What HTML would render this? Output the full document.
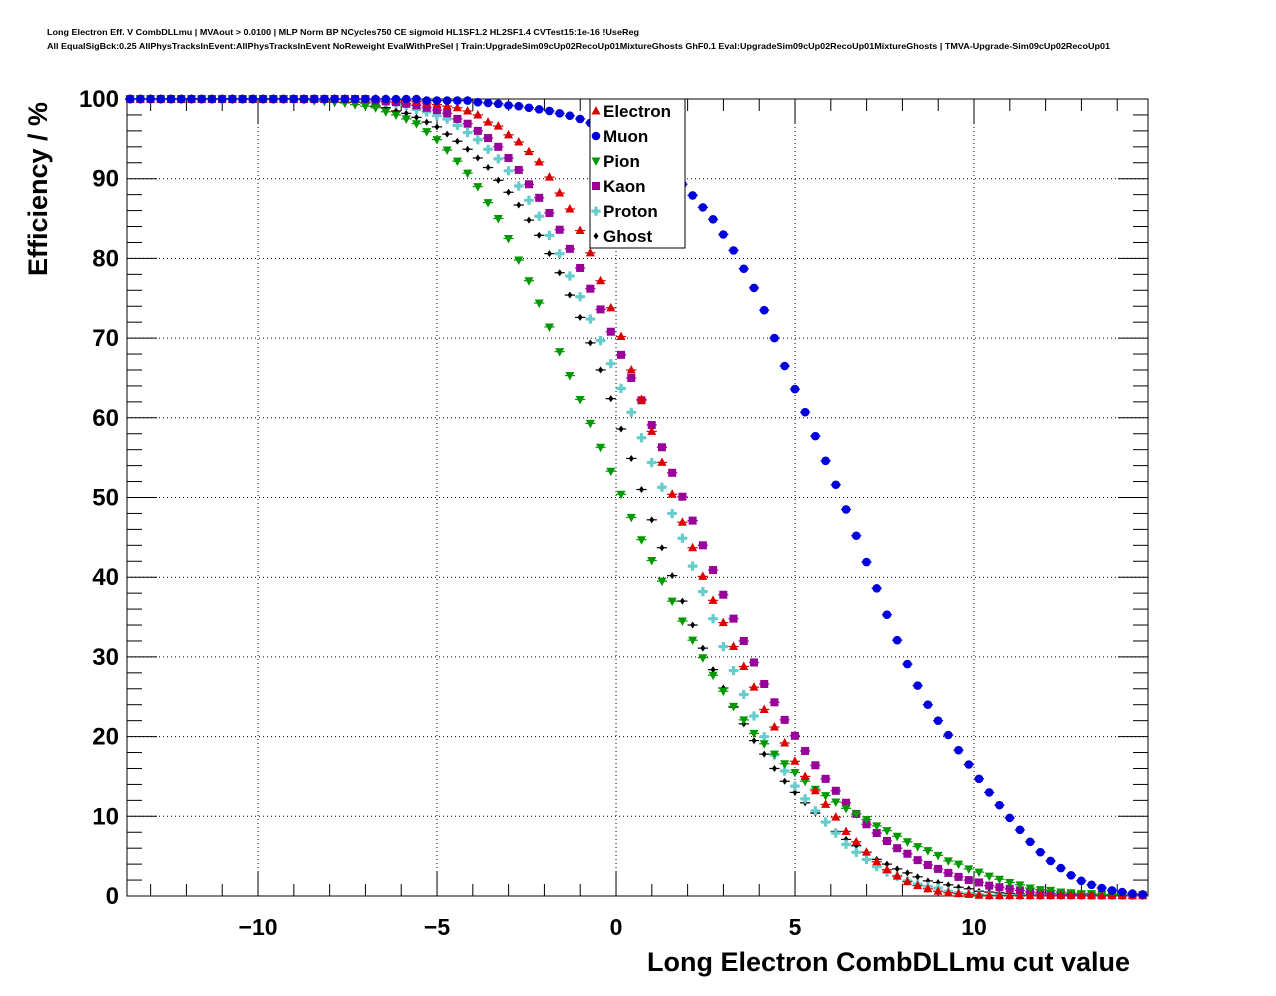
<!DOCTYPE html>
<html><head><meta charset="utf-8"><style>
html,body{margin:0;padding:0;background:#fff;}
svg{display:block;font-family:"Liberation Sans",Arial,sans-serif;font-weight:bold;}
</style></head><body>
<svg id="chart" width="1276" height="996" viewBox="0 0 1276 996" xmlns="http://www.w3.org/2000/svg">
<defs><clipPath id="plotclip"><rect x="122" y="90" width="1032" height="812"/></clipPath></defs>
<rect x="0" y="0" width="1276" height="996" fill="#fff"/>
<text x="47" y="35" font-size="8.5" textLength="592" lengthAdjust="spacingAndGlyphs">Long Electron Eff. V CombDLLmu | MVAout &gt; 0.0100 | MLP Norm BP NCycles750 CE sigmoid HL1SF1.2 HL2SF1.4 CVTest15:1e-16 !UseReg</text>
<text x="47" y="49" font-size="8.5" textLength="1063" lengthAdjust="spacingAndGlyphs">All EqualSigBck:0.25 AllPhysTracksInEvent:AllPhysTracksInEvent NoReweight EvalWithPreSel | Train:UpgradeSim09cUp02RecoUp01MixtureGhosts GhF0.1 Eval:UpgradeSim09cUp02RecoUp01MixtureGhosts | TMVA-Upgrade-Sim09cUp02RecoUp01</text>
<g id="grid"></g><g id="axes"></g><g id="marks" clip-path="url(#plotclip)"></g><g id="legend"></g>
<text transform="translate(47,189) rotate(-90)" text-anchor="middle" font-size="27">Efficiency / %</text>
<text x="1130" y="971" text-anchor="end" font-size="27">Long Electron CombDLLmu cut value</text>
</svg>
<script>
const kStart = -51;
const binWidth = 0.2857;
const binOffset = 0.14;
const seriesNames = ["Electron","Muon","Pion","Kaon","Proton","Ghost"];
const xTicks = [-10,-5,0,5,10];
const yTicks = [0,10,20,30,40,50,60,70,80,90,100];
const yTickLabels = ["0","10","20","30","40","50","60","70","80","90","100"];
const electron = [100,100,100,100,100,100,100,100,100,100,100,100,100,100,100,100,100,100,100,100,100,100,100,100,100,100,100,100,100,99.9,99.8,99.7,99.5,99.3,99.1,98.9,98.5,98.0,97.1,96.6,95.5,94.6,93.4,92.1,90.2,88.2,86.2,83.5,80.7,77.2,73.8,70.2,66.0,62.3,58.3,54.4,50.4,46.9,43.7,40.1,37.1,34.3,31.3,28.8,26.2,23.4,21.2,19.2,16.9,15.0,13.2,11.5,9.9,8.1,6.8,5.5,4.3,3.3,2.5,1.8,1.3,0.9,0.6,0.4,0.3,0.2,0.1,0.05,0.05,0.05,0.05,0.05,0.05,0.05,0.05,0.05,0.05,0.05,0.05,0.05,0.05,0.05,0.05];
const muon = [100,100,100,100,100,100,100,100,100,100,100,100,100,100,100,100,100,100,100,100,100,100,100,100,100,100,100,100,100,100,100,100,99.8,99.8,99.8,99.8,99.8,99.6,99.5,99.4,99.2,99.1,98.9,98.7,98.5,98.2,97.9,97.5,97.0,96.4,95.9,95.6,94.9,94.0,93.0,91.8,90.5,89.3,87.9,86.4,84.9,83.0,81.0,78.7,76.3,73.5,70.0,66.5,63.6,60.7,57.7,54.6,51.6,48.5,45.2,41.9,38.6,35.3,32.1,29.1,26.4,24.0,22.0,20.2,18.3,16.5,14.7,13.0,11.4,9.8,8.3,6.8,5.5,4.4,3.5,2.6,1.9,1.4,1.0,0.7,0.5,0.3,0.2];
const pion = [100,100,100,100,100,100,100,100,100,100,100,100,100,100,100,100,100,100,100,100,99.9,99.8,99.7,99.6,99.5,99.3,99.1,98.9,98.4,98.0,97.5,96.9,95.9,94.9,93.6,92.2,90.7,89.0,87.0,85.0,82.5,79.8,77.2,74.4,71.4,68.3,65.3,62.3,59.3,56.3,53.3,50.4,47.5,44.7,42.1,39.5,37.0,34.5,32.1,29.9,27.7,25.7,23.8,22.1,20.4,19.1,17.8,16.6,15.5,14.4,13.4,12.6,11.8,11.0,10.3,9.6,8.8,8.2,7.5,6.8,6.2,5.7,5.1,4.4,4.0,3.4,3.0,2.5,2.1,1.7,1.4,1.0,0.8,0.7,0.5,0.4,0.3,0.3,0.2,0.2,0.2,0.1,0.1];
const kaon = [100,100,100,100,100,100,100,100,100,100,100,100,100,100,100,100,100,100,100,100,100,100,100,100,100,100,100,99.8,99.7,99.6,99.4,99.2,98.9,98.6,98.2,97.5,96.9,96.0,95.1,94.0,92.6,91.1,89.3,87.6,85.7,83.6,81.2,78.8,76.2,73.6,70.8,67.9,65.0,62.2,59.1,56.3,53.1,50.1,47.1,44.0,40.9,37.8,34.8,32.0,29.3,26.6,24.3,22.1,20.1,18.2,16.4,14.7,13.2,11.7,10.3,9.0,7.9,6.9,6.0,5.3,4.5,3.9,3.4,2.9,2.4,2.0,1.7,1.3,1.1,0.9,0.7,0.5,0.4,0.3,0.25,0.2,0.15,0.1,0.1,0.1,0.1,0.1,0.1];
const proton = [100,100,100,100,100,100,100,100,100,100,100,100,100,100,100,100,100,100,100,100,100,100,100,100,100,99.9,99.8,99.7,99.6,99.4,99.2,98.7,98.4,97.9,97.5,96.7,95.8,94.9,93.7,92.5,91.0,89.1,87.3,85.3,82.9,80.6,77.8,75.2,72.4,69.7,66.8,63.7,60.7,57.5,54.4,51.3,48.0,44.9,41.4,38.2,34.8,31.3,28.3,25.3,22.6,20.0,17.7,15.7,13.8,12.2,10.7,9.3,7.9,6.5,5.5,4.6,3.7,3.0,2.5,1.9,1.5,1.2,1.0,0.6,0.4,0.3,0.2,0.1,0.1,0.1,0.1,0.1,0.1,0.1,0.1,0.1,0.1,0.1,0.1,0.1,0.1,0.1,0.1];
const ghost = [100,100,100,100,100,100,100,100,100,100,100,100,100,100,100,100,100,100,100,100,99.9,99.8,99.7,99.6,99.6,99.6,99.5,99.1,98.9,98.5,98.2,97.7,97.1,96.5,95.6,94.7,93.7,92.6,91.4,89.8,88.3,86.7,84.8,82.9,80.6,78.2,75.4,72.6,69.4,66.0,62.4,58.6,54.9,51.0,47.2,43.7,40.2,37.0,34.0,31.1,28.4,26.1,23.7,21.6,19.5,17.8,16.0,14.4,13.0,11.7,10.4,9.3,8.1,7.1,6.3,5.5,4.6,4.0,3.4,2.9,2.4,1.9,1.7,1.4,1.1,0.9,0.6,0.5,0.4,0.3,0.25,0.2,0.15,0.1,0.1,0.1,0.1,0.1,0.1,0.1,0.1,0.1,0.1];

const NS = "http://www.w3.org/2000/svg";
const X0 = 127, X1 = 1148, Y0 = 896, Y1 = 99;
const xMin = -13.66, xMax = 14.86, yMin = 0, yMax = 100;
function xs(v){ return X0 + (v - xMin) / (xMax - xMin) * (X1 - X0); }
function ys(v){ return Y0 - (v - yMin) / (yMax - yMin) * (Y0 - Y1); }
function mk(tag, attrs, parent){ const e = document.createElementNS(NS, tag); for (const k in attrs) e.setAttribute(k, attrs[k]); parent.appendChild(e); return e; }
const grid = document.getElementById('grid'), axes = document.getElementById('axes'), marks = document.getElementById('marks'), legend = document.getElementById('legend');

xTicks.forEach(t => { const l = mk('line', {x1: xs(t), x2: xs(t), y1: Y1, y2: Y0, stroke: '#000', 'stroke-width': 1, 'stroke-dasharray': '1,3'}, grid);
  
   });
yTicks.forEach(t => { if (t === 0 || t === 100) return; const l = mk('line', {x1: X0, x2: X1, y1: ys(t), y2: ys(t), stroke: '#000', 'stroke-width': 1, 'stroke-dasharray': '1,3'}, grid);
  
   });

const frame = mk('rect', {x: X0, y: Y1, width: X1 - X0, height: Y0 - Y1, fill: 'none', stroke: '#000', 'stroke-width': 1}, axes);



for (let v = -13; v <= 14; v++) {
  const major = (v % 5 === 0); const len = major ? 24 : 12;
  mk('line', {x1: xs(v), x2: xs(v), y1: Y0, y2: Y0 - len, stroke: '#000'}, axes);
  mk('line', {x1: xs(v), x2: xs(v), y1: Y1, y2: Y1 + len, stroke: '#000'}, axes);
}
xTicks.forEach(t => { const tx = mk('text', {x: xs(t), y: 935, 'text-anchor': 'middle', 'font-size': 23}, axes);
  tx.textContent = t < 0 ? '\u2212' + Math.abs(t) : String(t);
  
   });
for (let v = 0; v <= 100; v += 2) {
  const major = (v % 10 === 0); const len = major ? 30 : 15;
  mk('line', {x1: X0, x2: X0 + len, y1: ys(v), y2: ys(v), stroke: '#000'}, axes);
  mk('line', {x1: X1, x2: X1 - len, y1: ys(v), y2: ys(v), stroke: '#000'}, axes);
}
yTicks.forEach((t, i) => { const tx = mk('text', {x: 119, y: ys(t) + 8, 'text-anchor': 'end', 'font-size': 24}, axes);
  tx.textContent = yTickLabels[i];
  
   });

const colors = ['#dd0000', '#0000dd', '#009900', '#990099', '#66cccc', '#000000'];
function marker(kind, cx, cy, col, parent){
  if (kind === 0) return mk('polygon', {points: `${cx},${cy-5} ${cx-4.5},${cy+3.5} ${cx+4.5},${cy+3.5}`, fill: col}, parent);
  if (kind === 1) return mk('circle', {cx: cx, cy: cy, r: 4.3, fill: col}, parent);
  if (kind === 2) return mk('polygon', {points: `${cx},${cy+5} ${cx-4.5},${cy-3.5} ${cx+4.5},${cy-3.5}`, fill: col}, parent);
  if (kind === 3) return mk('rect', {x: cx - 4, y: cy - 4, width: 8, height: 8, fill: col}, parent);
  if (kind === 4) return mk('path', {d: `M${cx-1.6},${cy-4.5}h3.2v3h3v3.2h-3v3h-3.2v-3h-3v-3.2h3z`, fill: col}, parent);
  return mk('polygon', {points: `${cx},${cy-3.5} ${cx-2.5},${cy} ${cx},${cy+3.5} ${cx+2.5},${cy}`, fill: col}, parent);
}
const allSeries = [electron, muon, pion, kaon, proton, ghost];
const drawOrder = [5, 4, 3, 2, 0, 1];
drawOrder.forEach(s => {
  const g = mk('g', {}, marks);
  
  
  allSeries[s].forEach((val, i) => {
    const xv = binOffset + (kStart + i) * binWidth;
    if (xv < xMin || xv > xMax) return;
    const cx = xs(xv), cy = ys(val);
    mk('line', {x1: xs(xv - binWidth / 2), x2: xs(xv + binWidth / 2), y1: cy, y2: cy, stroke: colors[s], 'stroke-width': 1.2}, g);
    const m = marker(s, cx, cy, colors[s], g);
    
    
  });
});

const lb = mk('rect', {x: 590, y: 99, width: 95, height: 149, fill: '#fff', stroke: '#000', 'stroke-width': 1}, legend);


seriesNames.forEach((n, i) => {
  const y = 111 + i * 25;
  const g = mk('g', {}, legend);
  
  
  marker(i, 596, y, colors[i], g);
  const t = mk('text', {x: 603, y: y + 6, 'font-size': 17}, g);
  t.textContent = n;
});
</script>
</body></html>
